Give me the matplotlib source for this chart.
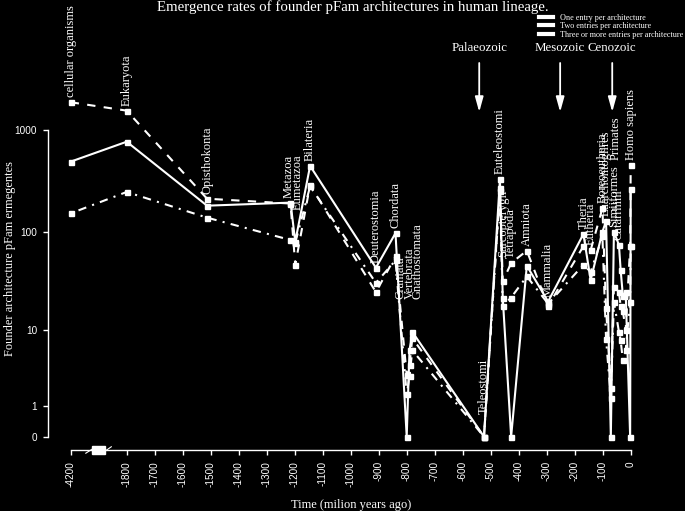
import numpy as np
import matplotlib
matplotlib.use("Agg")
import matplotlib.pyplot as plt
from matplotlib.lines import Line2D
from matplotlib.patches import Rectangle
from matplotlib.ticker import NullLocator

# ---------------- data ----------------
taxa = ["cellular organisms", "Eukaryota", "Opisthokonta", "Metazoa", "Eumetazoa",
        "Bilateria", "Deuterostomia", "Chordata", "Craniata", "Vertebrata",
        "Gnathostomata", "Teleostomi", "Euteleostomi", "Sarcopterygii", "Tetrapoda",
        "Amniota", "Mammalia", "Theria", "Eutheria", "Boreoeutheria",
        "Euarchontoglires", "Primates", "Simiiformes", "Catarrhini", "Hominoidea",
        "Hominidae", "Homininae", "Homo", "Homo sapiens"]
times = [-4200, -1800, -1513, -1215, -1198,
         -1145, -910, -840, -800, -790,
         -780, -524, -467, -457, -427,
         -371, -295, -169, -143, -101,
         -88, -71, -60, -42, -36,
         -28, -18, -2, 0]
one_entry = [490, 768, 181, 194, 80,
             445, 44, 97, 0, 6,
             9.6, 0, 329, 22, 0,
             46, 20, 95, 33, 100,
             128, 0, 100, 74, 42,
             23, 25, 0, 266]
two_entries = [1870, 1548, 212, 190, 47,
               290, 25, 57, 3, 4,
               8.2, 0, 268, 32, 49,
               65, 18, 72, 66, 171,
               17, 2, 28, 25, 18,
               16, 10, 72, 453]
three_plus = [152, 247, 138, 83, 78,
              280, 31, 52, 1.6, 2.9,
              6, 0, 250, 18, 22,
              36, 19, 47, 40, 90,
              8, 1.4, 20, 9.6, 7.8,
              4.6, 6, 20, 72]

yticks = [0, 1, 10, 100, 1000]
xticks = [-4200, -1800, -1700, -1600, -1500, -1400, -1300, -1200, -1100,
          -1000, -900, -800, -700, -600, -500, -400, -300, -200, -100, 0]
era_names = ["Palaeozoic", "Mesozoic", "Cenozoic"]
era_start = [-541, -252, -66]
series_names = ["One entry per architecture", "Two entries per architecture",
                "Three or more entries per architecture"]

# label layout tweaks (not data): taxa drawn without a label, label anchors, nudges
unlabelled = {"Hominoidea", "Hominidae", "Homininae", "Homo"}
label_anchor = {"Craniata": 19, "Vertebrata": 19, "Gnathostomata": 19,
                "Eumetazoa": 146, "Sarcopterygii": 50, "Teleostomi": 0.5,
                "Primates": 450}
label_nudge_px = {"Craniata": -6, "Gnathostomata": 5, "Primates": 5,
                  "Metazoa": -2, "Eumetazoa": 2}

BREAK_TO = -2000  # everything older is drawn at this position (broken axis)


def axis_x(t):
    t = np.asarray(t, dtype=float)
    return np.where(t < BREAK_TO, BREAK_TO, t)


SERIF = ["Liberation Serif", "DejaVu Serif"]
SANS = ["Liberation Sans", "DejaVu Sans"]

fig = plt.figure(figsize=(6.85, 5.11), dpi=100, facecolor="black")
ax = fig.add_axes([0.0705, 0.1194, 0.893, 0.8415])
ax.set_facecolor("black")

fwd = lambda y: np.log10(np.maximum(y, -0.999) + 1.0)
inv = lambda u: 10.0 ** u - 1.0
ax.set_yscale("function", functions=(fwd, inv))
ax.set_xlim(-2080, 104.6)
ax.set_ylim(-0.259, 11940)

x = axis_x(times)
styles = [dict(linestyle="-"),
          dict(linestyle=(0, (4, 4))),
          dict(linestyle=(0, (1, 3, 4, 3)))]
for vals, st in zip([one_entry, two_entries, three_plus], styles):
    ax.plot(x, vals, color="white", lw=1.5, marker="s", ms=3.6,
            mec="white", mfc="white", clip_on=False, **st)

# taxon labels above highest point
for name, xx, a, b, c in zip(taxa, x, one_entry, two_entries, three_plus):
    if name in unlabelled:
        continue
    yy = label_anchor.get(name, max(a, b, c))
    ax.annotate(name, (xx, yy), xytext=(label_nudge_px.get(name, 0), 5),
                textcoords="offset pixels",
                rotation=90, ha="center", va="bottom", color="white",
                fontsize=9, family=SERIF, annotation_clip=False)

# axes
for s in ["top", "right"]:
    ax.spines[s].set_visible(False)
ax.spines["left"].set_bounds(0, 1000)
ax.spines["bottom"].set_bounds(BREAK_TO, 0)
for s in ["left", "bottom"]:
    ax.spines[s].set_color("white")
    ax.spines[s].set_linewidth(1.0)

ax.set_yticks(yticks)
ax.set_yticklabels([str(v) for v in yticks], family=SANS)
ax.yaxis.set_minor_locator(NullLocator())
ax.set_xticks(axis_x(xticks))
ax.set_xticklabels([str(v) for v in xticks], rotation=90, family=SANS)
ax.xaxis.set_minor_locator(NullLocator())
ax.tick_params(colors="white", length=3.6, width=1.0, labelsize=7.2, pad=4.5)

# axis break symbol
tr = ax.get_xaxis_transform()
ax.add_patch(Rectangle((-1925, -0.0086), 48, 0.0172, transform=tr,
                       facecolor="white", edgecolor="white", clip_on=False, zorder=5))
ax.add_line(Line2D([-1946, -1922], [-0.0075, 0.0025], transform=tr, color="white",
                   lw=0.8, clip_on=False))
ax.add_line(Line2D([-1877, -1855], [-0.0025, 0.0075], transform=tr, color="white",
                   lw=0.8, clip_on=False))

# era arrows
for name, t in zip(era_names, era_start):
    ax.annotate("", xy=(t, 0.786), xytext=(t, 0.9), xycoords=tr, textcoords=tr,
                arrowprops=dict(arrowstyle="-|>,head_length=0.9,head_width=0.25",
                                color="white", lw=1.3, shrinkA=0, shrinkB=0))
    ax.text(t, 0.935, name, transform=tr, ha="center", va="center", color="white",
            fontsize=9.3, family=SERIF)

# titles
fig.text(0.515, 1 - 7 / 511, "Emergence rates of founder pFam architectures in human lineage.",
         ha="center", va="center", color="white", fontsize=10.7, family=SERIF)
fig.text(0.512, 1 - 505 / 511, "Time (milion years ago)", ha="center", va="center",
         color="white", fontsize=9, family=SERIF)
fig.text(10 / 685, 1 - 258 / 511, "Founder architecture pFam ermegentes", rotation=90,
         ha="center", va="center", color="white", fontsize=9, family=SERIF)

# legend
handles = [Line2D([], [], color="white", lw=3) for _ in series_names]
leg = fig.legend(handles, series_names, loc="upper right",
                 bbox_to_anchor=(0.998, 1 - 13.5 / 511), frameon=False,
                 prop=dict(family=SERIF, size=5.9), labelcolor="white",
                 handlelength=1.7, handletextpad=0.85, labelspacing=0.1,
                 borderpad=0, borderaxespad=0)

fig.savefig("out.png", dpi=100, facecolor="black")
